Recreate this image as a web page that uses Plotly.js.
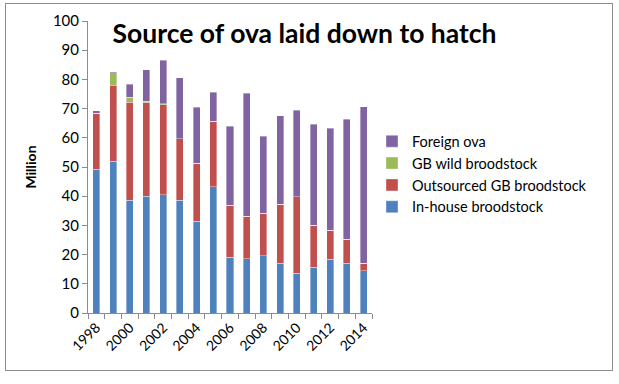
<!DOCTYPE html>
<html>
<head>
<meta charset="utf-8">
<script src="https://cdn.plot.ly/plotly-3.0.1.min.js"></script>
<style>
html,body{margin:0;padding:0;background:#fff;}
#wrap{position:relative;width:619px;height:384px;}
#chart{width:619px;height:384px;}
#frame{position:absolute;left:5px;top:3px;width:606px;height:366px;border:1px solid #8c8c8c;pointer-events:none;}
</style>
</head>
<body>
<div id="wrap"><div id="chart"></div><div id="frame"></div></div>
<script>
const years = [1998,1999,2000,2001,2002,2003,2004,2005,2006,2007,2008,2009,2010,2011,2012,2013,2014];
const inHouse    = [49.2,52.0,38.6,40.0,40.5,38.6,31.4,43.2,19.1,18.6,19.6,17.0,13.6,15.6,18.4,17.0,14.4];
const outsourced = [19.2,25.8,33.6,32.0,30.8,21.1,19.9,22.4,17.8,14.5,14.5,20.2,26.2,14.5,10.0,8.2,2.7];
const gbWild     = [0,4.5,1.7,0.6,0.3,0,0,0,0,0,0,0,0,0,0,0,0];
const foreign    = [0.9,0.3,4.5,10.7,15.0,20.9,19.1,10.0,27.0,42.1,26.4,30.3,29.7,34.5,34.9,41.2,53.6];
const tickYears  = [1998,2000,2002,2004,2006,2008,2010,2012,2014];

const FONT = 'Lato, "Open Sans", sans-serif';
function bar(name, y, color){
  return {type:'bar', name:name, x:years, y:y,
    marker:{color:color, line:{color:'rgba(255,255,255,0.45)', width:0.8}},
    width:0.42};
}
const data = [
  bar('In-house broodstock', inHouse, '#4F81BD'),
  bar('Outsourced GB broodstock', outsourced, '#C0504D'),
  bar('GB wild broodstock', gbWild, '#9BBB59'),
  bar('Foreign ova', foreign, '#8064A2')
];
const layout = {
  width:619, height:384,
  margin:{l:88, r:247, t:21, b:71},
  barmode:'stack',
  paper_bgcolor:'#fff', plot_bgcolor:'#fff',
  font:{family:FONT, size:14, color:'#000'},
  title:{text:'<b>Source of ova laid down to hatch</b>', font:{family:FONT, size:26.5, color:'#000'},
    x:0.492, xref:'container', xanchor:'center', y:0.913, yref:'container', yanchor:'middle'},
  xaxis:{range:[1997.5,2014.5], tickmode:'array', tickvals:tickYears, ticktext:tickYears.map(String),
    tickangle:-45, ticks:'', showgrid:false, zeroline:false,
    showline:true, linecolor:'#8c8c8c', linewidth:1,
    tickfont:{family:FONT, size:14, color:'#000'},
    minor:{tick0:1997.5, dtick:1, ticks:'outside', ticklen:5, tickcolor:'#8c8c8c', showgrid:false}},
  yaxis:{range:[0,100], dtick:10, ticks:'outside', ticklen:5, tickcolor:'#8c8c8c',
    showgrid:false, zeroline:false, showline:true, linecolor:'#8c8c8c', linewidth:1,
    tickfont:{family:FONT, size:15, color:'#000'},
    title:{text:'<b>Million</b>', font:{family:FONT, size:14, color:'#000'}, standoff:12}},
  legend:{x:1, xref:'paper', xanchor:'left', y:0.475, yanchor:'middle', traceorder:'reversed',
    font:{family:FONT, size:14.5, color:'#000'}, itemwidth:30, tracegroupgap:0, bgcolor:'rgba(0,0,0,0)'},
  showlegend:true
};
Plotly.newPlot('chart', data, layout, {displayModeBar:false, staticPlot:true});
</script>
</body>
</html>
